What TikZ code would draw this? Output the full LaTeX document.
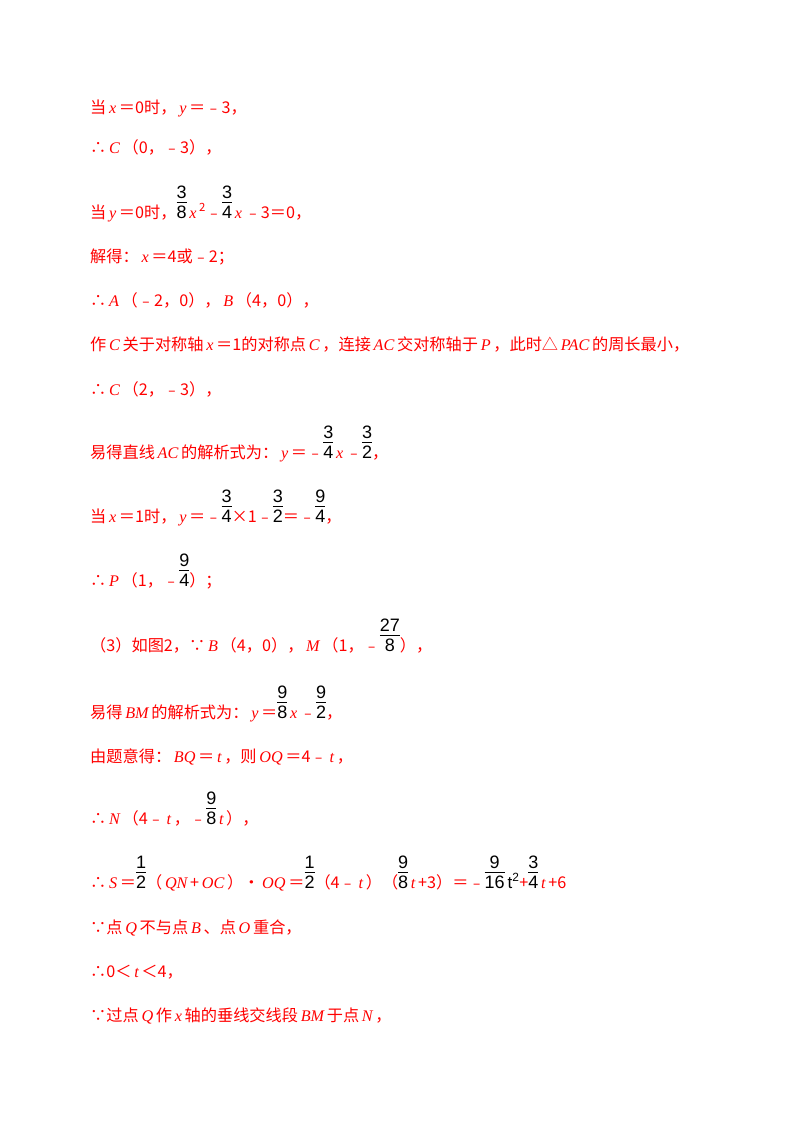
\documentclass[tikz,border=0pt]{standalone}
\usepackage{fontspec}
\setmainfont{Liberation Serif}
\newfontfamily\cjk{Noto Sans CJK SC}
\newfontfamily\frf{Liberation Sans}
\newcommand\vv[1]{{\rmfamily\itshape\,#1\,}}
\newcommand\fr[2]{{\color{black}\frf\fontsize{18}{20}\selectfont\begin{tabular}[b]{@{}c@{}}#1\\[-3pt]\hline\rule{0pt}{16pt}#2\end{tabular}}}
\tikzset{ln/.style={anchor=base west,inner sep=0pt,text=red,font=\cjk\fontsize{16.2}{18}\selectfont}}
\begin{document}
\begin{tikzpicture}[x=1pt,y=-1pt]
\useasboundingbox (0,0) rectangle (800,1132);
\node[ln] (l1) at (90,113) {当\vv{x}＝0时，\vv{y}＝﹣3，};
\node[ln] (l2) at (90,153) {∴\vv{C}（0，﹣3），};
\node[ln] (l3) at (90,218) {当\vv{y}＝0时，\fr{3}{8}\vv{x}\textsuperscript{2}﹣\fr{3}{4}\vv{x}﹣3＝0，};
\node[ln] (l4) at (90,262) {解得：\vv{x}＝4或﹣2；};
\node[ln] (l5) at (90,306) {∴\vv{A}（﹣2，0），\vv{B}（4，0），};
\node[ln] (l6) at (90,350) {作\vv{C}关于对称轴\vv{x}＝1的对称点\vv{C}，连接\vv{AC}交对称轴于\vv{P}，此时△\vv{PAC}的周长最小，};
\node[ln] (l7) at (90,395) {∴\vv{C}（2，﹣3），};
\node[ln] (l8) at (90,458) {易得直线\vv{AC}的解析式为：\vv{y}＝﹣\fr{3}{4}\vv{x}﹣\fr{3}{2}，};
\node[ln] (l9) at (90,522) {当\vv{x}＝1时，\vv{y}＝﹣\fr{3}{4}×1﹣\fr{3}{2}＝﹣\fr{9}{4}，};
\node[ln] (l10) at (90,586) {∴\vv{P}（1，﹣\fr{9}{4}）；};
\node[ln] (l11) at (90,651) {（3）如图2，∵\vv{B}（4，0），\vv{M}（1，﹣\fr{27}{8}），};
\node[ln] (l12) at (90,718) {易得\vv{BM}的解析式为：\vv{y}＝\fr{9}{8}\vv{x}﹣\fr{9}{2}，};
\node[ln] (l13) at (90,762) {由题意得：\vv{BQ}＝\vv{t}，则\vv{OQ}＝4﹣\vv{t}，};
\node[ln] (l14) at (90,824) {∴\vv{N}（4﹣\vv{t}，﹣\fr{9}{8}\vv{t}），};
\node[ln] (l15) at (90,888) {∴\vv{S}＝\fr{1}{2}（\vv{QN}+\vv{OC}）•\vv{OQ}＝\fr{1}{2}（4﹣\vv{t}）（\fr{9}{8}\vv{t}+3）＝﹣\fr{9}{16}{\color{black}\frf\fontsize{17}{19}\selectfont\,t\textsuperscript{2}}+\fr{3}{4}\vv{t}+6};
\node[ln] (l16) at (90,933) {∵点\vv{Q}不与点\vv{B}、点\vv{O}重合，};
\node[ln] (l17) at (90,977) {∴0＜\vv{t}＜4，};
\node[ln] (l18) at (90,1021) {∵过点\vv{Q}作\vv{x}轴的垂线交线段\vv{BM}于点\vv{N}，};
\end{tikzpicture}
\end{document}
